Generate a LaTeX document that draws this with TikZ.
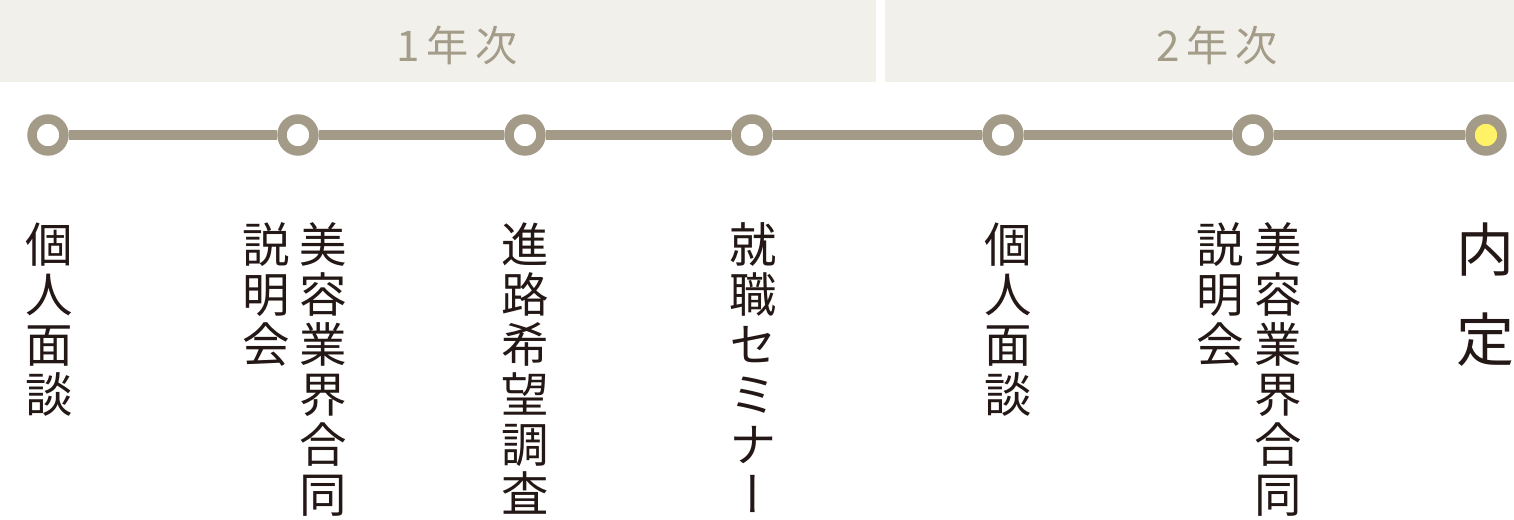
\documentclass[tikz,border=0pt]{standalone}
\usepackage{fontspec}
\newfontfamily\cjk{Noto Sans CJK JP}
\newfontfamily\cjkv[RawFeature=+vert]{Noto Sans CJK JP}
\usetikzlibrary{positioning}
\definecolor{bandgray}{HTML}{F2F0EB}
\definecolor{trackgray}{HTML}{A39B87}
\definecolor{headgray}{HTML}{A39C89}
\definecolor{inkblack}{HTML}{231815}
\definecolor{goalyellow}{HTML}{FFF266}
\tikzset{
  band/.style={fill=bandgray},
  year/.style={text=headgray, inner sep=0, font=\cjk\fontsize{12pt}{14pt}\selectfont},
  stop/.style={circle, draw=trackgray, fill=white, line width=2.7pt, minimum size=0.32cm, inner sep=0},
  goal/.style={stop, fill=goalyellow},
  track/.style={draw=trackgray, line width=2.85pt},
  vtext/.style={anchor=north, align=center, inner sep=0, text=inkblack, font=\cjkv\fontsize{13.5pt}{14.2pt}\selectfont},
  vbig/.style={vtext, font=\cjkv\fontsize{16.5pt}{25.6pt}\selectfont}
}

\begin{document}
\begin{tikzpicture}
\useasboundingbox (0,0) rectangle (15.14,-5.20);
% year bands
\fill [band] (0,0) rectangle (8.76,-0.82);
\fill [band] (8.85,0) rectangle (15.14,-0.82);
\node [year] (y1) at (4.57,-0.45) {1\kern2pt 年\kern2pt 次};
\node [year] (y2) at (12.17,-0.45) {2\kern2pt 年\kern2pt 次};
% timeline
\node [stop] (p1) at (0.48,-1.35) {};
\node [stop] (p2) at (2.98,-1.35) {};
\node [stop] (p3) at (5.25,-1.35) {};
\node [stop] (p4) at (7.52,-1.35) {};
\node [stop] (p5) at (10.03,-1.35) {};
\node [stop] (p6) at (12.53,-1.35) {};
\node [goal] (p7) at (14.86,-1.35) {};
\draw [track] (p1) -- (p2) -- (p3) -- (p4) -- (p5) -- (p6) -- (p7);
% labels
\node [vtext] (l1) at (0.495,-2.22) {個\\人\\面\\談};
\node [vtext] (l2a) at (3.23,-2.22) {美\\容\\業\\界\\合\\同};
\node [vtext] (l2b) at (2.66,-2.22) {説\\明\\会};
\node [vtext] (l3) at (5.25,-2.22) {進\\路\\希\\望\\調\\査};
\node [vtext] (l4) at (7.53,-2.22) {就\\職\\セ\\ミ\\ナ\\ー};
\node [vtext] (l5) at (10.08,-2.22) {個\\人\\面\\談};
\node [vtext] (l6a) at (12.78,-2.22) {美\\容\\業\\界\\合\\同};
\node [vtext] (l6b) at (12.20,-2.22) {説\\明\\会};
\node [vbig] (l7) at (14.85,-2.22) {内\\定};
\end{tikzpicture}
\end{document}
